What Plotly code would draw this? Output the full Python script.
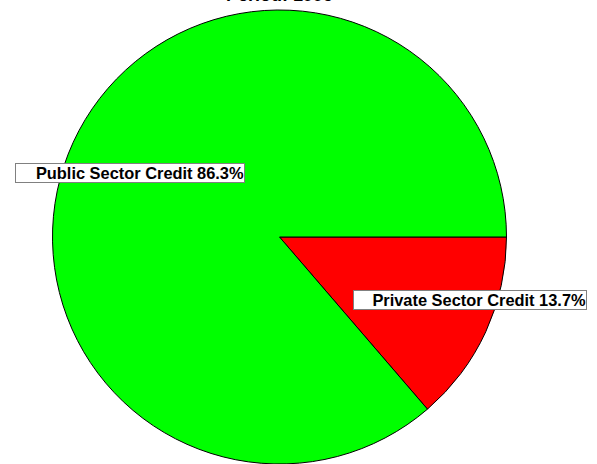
import plotly.graph_objects as go

labels = ["Private Sector Credit", "Public Sector Credit"]
values = [13.7, 86.3]
colors = ["#ff0000", "#00ff00"]
title_text = "Period: 1995"

W, H = 597, 464
FONT = "Arial, Liberation Sans, sans-serif"

fig = go.Figure(go.Pie(
    labels=labels, values=values, sort=False, direction="clockwise", rotation=90,
    marker=dict(colors=colors, line=dict(color="black", width=1)),
    textinfo="none", hoverinfo="label+percent", showlegend=False,
    domain=dict(x=[31 / W, 528 / W], y=[1 - 464 / H, 1 - 10 / H]),
))

# label boxes (pixel centres of the reference boxes)
box_pos = {"Public Sector Credit": (130, 173, 228), "Private Sector Credit": (470, 299.5, 232)}
total = sum(values)
for lab, val in zip(labels, values):
    cx, cy, w = box_pos[lab]
    fig.add_annotation(
        x=cx / W, y=1 - cy / H, xref="paper", yref="paper",
        text=f"<b>{lab} {val / total * 100:.1f}%</b>", showarrow=False,
        font=dict(family=FONT, size=16.4, color="black"),
        bgcolor="white", bordercolor="#808080", borderwidth=1, borderpad=0,
        width=w, align="right", xanchor="center", yanchor="middle",
    )

fig.add_annotation(
    x=279 / W, y=1, xref="paper", yref="paper", text=f"<b>{title_text}</b>",
    showarrow=False, font=dict(family=FONT, size=18, color="black"),
    xanchor="center", yanchor="bottom", yshift=-7,
)

fig.update_layout(
    width=W, height=H, margin=dict(l=0, r=0, t=0, b=0),
    paper_bgcolor="white", plot_bgcolor="white",
)
fig.write_html("out.html")
